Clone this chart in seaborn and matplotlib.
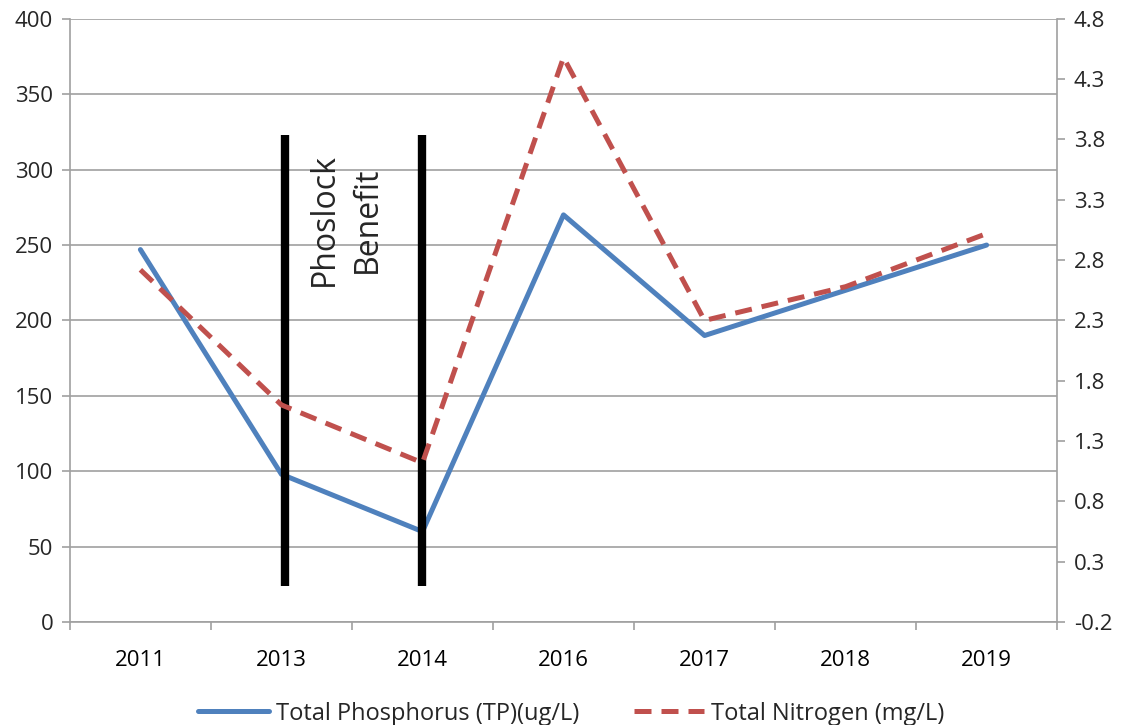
import matplotlib
matplotlib.use("Agg")
import matplotlib.pyplot as plt
import seaborn as sns
import numpy as np
import pandas as pd

years = ["2011", "2013", "2014", "2016", "2017", "2018", "2019"]
tp = [247, 98, 60, 270, 190, 220, 250]
tn = [2.72, 1.60, 1.12, 4.48, 2.30, 2.58, 3.02]
left_ticks = [0, 50, 100, 150, 200, 250, 300, 350, 400]
right_ticks = [-0.2, 0.3, 0.8, 1.3, 1.8, 2.3, 2.8, 3.3, 3.8, 4.3, 4.8]
marker_years = ["2013", "2014"]
marker_range = [24, 323]
annotation = "Phoslock\nBenefit"

sns.set_theme(style="white")
plt.rcParams['font.family'] = ['Open Sans', 'DejaVu Sans']

df = pd.DataFrame({"pos": np.arange(len(years)), "year": years, "tp": tp, "tn": tn})

fig = plt.figure(figsize=(11.27, 7.25), dpi=100)
ax = fig.add_axes([0.062, 0.142, 0.876, 0.832])
ax2 = ax.twinx()

blue = "#4F81BD"
red = "#C0504D"
gray = "#A0A0A0"

sns.lineplot(data=df, x="pos", y="tp", ax=ax, color=blue, linewidth=3.6, sort=False,
             label="Total Phosphorus (TP)(ug/L)", legend=False)
sns.lineplot(data=df, x="pos", y="tn", ax=ax2, color=red, linewidth=3.6, sort=False,
             linestyle=(0, (3.4, 2.0)), label="Total Nitrogen (mg/L)", legend=False)

for i, y in enumerate(marker_years):
    p = years.index(y)
    ax.plot([p + (0.025 if i == 0 else 0.0)] * 2, marker_range, color="black", linewidth=6,
            solid_capstyle="butt", zorder=5)

ax.text(1.455, 267, annotation, rotation=90, ha="center", va="center", fontsize=23,
        linespacing=1.4)

ax.set_xlim(-0.5, len(years) - 0.5)
ax.set_ylim(0, 400)
ax2.set_ylim(-0.2, 4.8)
ax.set_yticks(left_ticks)
ax2.set_yticks(right_ticks)
ax2.set_yticklabels([f"{v:.1f}" for v in right_ticks])
ax.set_xticks(np.arange(len(years)))
ax.set_xticklabels(years)
ax.set_xticks(np.arange(len(years) + 1) - 0.5, minor=True)
ax.set_xlabel("")
ax.set_ylabel("")
ax2.set_ylabel("")

ax.yaxis.grid(True, color=gray, linewidth=1.2)
ax.set_axisbelow(True)
for a in (ax, ax2):
    a.spines["top"].set_visible(False)
    for s in ("left", "right", "bottom"):
        a.spines[s].set_color(gray)
        a.spines[s].set_linewidth(1.2)
ax.spines["right"].set_visible(False)
ax2.spines["left"].set_visible(False)
ax2.spines["bottom"].set_visible(False)

ax.tick_params(axis="x", which="major", length=0, labelsize=16, pad=20, colors="black")
ax.tick_params(axis="x", which="minor", length=6, color=gray, width=1.2, direction="out", bottom=True)
ax.tick_params(axis="y", length=6, color=gray, width=1.2, direction="out", labelsize=16, left=True, pad=6)
ax2.tick_params(axis="y", length=6, color=gray, width=1.2, direction="out", labelsize=16, right=True, pad=6)

h1, l1 = ax.get_legend_handles_labels()
h2, l2 = ax2.get_legend_handles_labels()
fig.legend(h1 + h2, l1 + l2, loc="lower center", bbox_to_anchor=(0.507, -0.03), ncol=2,
           frameon=False, fontsize=17, handlelength=3.0, columnspacing=2.3, handletextpad=0.3)

fig.savefig("out.png", dpi=100)
